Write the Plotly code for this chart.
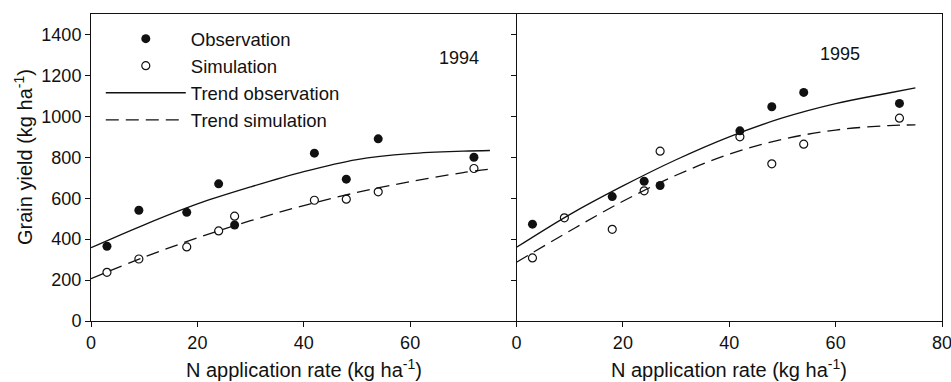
import plotly.graph_objects as go

# ---------------- data ----------------
n_rate = [3, 9, 18, 24, 27, 42, 48, 54, 72]
obs_1994 = [365, 541, 531, 670, 469, 820, 693, 890, 800]
sim_1994 = [238, 303, 362, 440, 512, 590, 595, 631, 745]
obs_1995 = [473, None, 608, 683, 662, 929, 1047, 1117, 1063]
sim_1995 = [308, 504, 448, 636, 830, 900, 768, 864, 991]

trend_x = [0, 10, 20, 30, 40, 50, 60, 70, 75]
trend_obs_1994 = [358, 470, 572, 655, 730, 789, 818, 830, 833]
trend_sim_1994 = [207, 312, 406, 490, 564, 628, 681, 725, 742]
trend_obs_1995 = [360, 520, 660, 788, 900, 992, 1062, 1114, 1139]
trend_sim_1995 = [287, 440, 585, 712, 815, 888, 933, 955, 958]

x_ticks_left = [0, 20, 40, 60]
x_ticks_right = [0, 20, 40, 60, 80]
y_ticks = [0, 200, 400, 600, 800, 1000, 1200, 1400]

FONT = "Liberation Sans, Arial, Helvetica, sans-serif"
INK = "#111111"

fig = go.Figure()

panels = [
    ("x", "y", obs_1994, sim_1994, trend_obs_1994, trend_sim_1994, True),
    ("x2", "y2", obs_1995, sim_1995, trend_obs_1995, trend_sim_1995, False),
]
for xa, ya, obs, sim, tobs, tsim, show in panels:
    fig.add_trace(go.Scatter(
        x=n_rate, y=obs, mode="markers", name="Observation",
        legendgroup="obs", showlegend=show, xaxis=xa, yaxis=ya,
        marker=dict(symbol="circle", size=9, color=INK, line=dict(width=0)),
    ))
    fig.add_trace(go.Scatter(
        x=n_rate, y=sim, mode="markers", name="Simulation",
        legendgroup="sim", showlegend=show, xaxis=xa, yaxis=ya,
        marker=dict(symbol="circle-open", size=8, color=INK, line=dict(width=1.2)),
    ))
    fig.add_trace(go.Scatter(
        x=trend_x, y=tobs, mode="lines", name="Trend observation",
        legendgroup="tobs", showlegend=show, xaxis=xa, yaxis=ya,
        line=dict(color=INK, width=1.3, shape="spline"),
    ))
    fig.add_trace(go.Scatter(
        x=trend_x, y=tsim, mode="lines", name="Trend simulation",
        legendgroup="tsim", showlegend=show, xaxis=xa, yaxis=ya,
        line=dict(color=INK, width=1.3, shape="spline", dash="13px,7px"),
    ))

axis_common = dict(
    showline=True, linecolor=INK, linewidth=1, ticks="outside", ticklen=5,
    tickcolor=INK, tickwidth=1, showgrid=False, zeroline=False, automargin=False,
    tickfont=dict(family=FONT, size=18, color=INK),
)

fig.update_layout(
    width=951, height=382,
    margin=dict(l=91, r=9, t=14, b=61),
    paper_bgcolor="white", plot_bgcolor="white",
    font=dict(family=FONT, size=18, color=INK),
    xaxis=dict(domain=[0, 0.5], range=[0, 80], tickvals=x_ticks_left,
               anchor="y", mirror=True, **axis_common),
    xaxis2=dict(domain=[0.5, 1], range=[0, 80], tickvals=x_ticks_right,
                anchor="y2", mirror=True, ticklabeloverflow="allow", **axis_common),
    yaxis=dict(range=[0, 1500], tickvals=y_ticks, anchor="x", **axis_common),
    yaxis2=dict(range=[0, 1500], tickvals=y_ticks, anchor="x2", matches="y",
                showticklabels=False, mirror=True, **axis_common),
    legend=dict(x=0.0115, y=0.98, xanchor="left", yanchor="top",
                bgcolor="rgba(0,0,0,0)", font=dict(family=FONT, size=18.5, color=INK),
                itemwidth=80, tracegroupgap=0),
    showlegend=True,
)

xt = "N application rate (kg ha<sup>-1</sup>)"
annotations = [
    dict(text=xt, xref="x domain", yref="paper", x=0.5, y=-0.155,
         xanchor="center", yanchor="middle", showarrow=False,
         font=dict(family=FONT, size=20, color=INK)),
    dict(text=xt, xref="x2 domain", yref="paper", x=0.5, y=-0.155,
         xanchor="center", yanchor="middle", showarrow=False,
         font=dict(family=FONT, size=20, color=INK)),
    dict(text="Grain yield (kg ha<sup>-1</sup>)", xref="paper", yref="paper",
         x=-0.08, y=0.534, xanchor="center", yanchor="middle", textangle=-90,
         showarrow=False, font=dict(family=FONT, size=20, color=INK)),
    dict(text="1994", xref="x", yref="y", x=69.1, y=1285, showarrow=False,
         font=dict(family=FONT, size=18, color=INK)),
    dict(text="1995", xref="x2", yref="y2", x=60.8, y=1307, showarrow=False,
         font=dict(family=FONT, size=18, color=INK)),
]
fig.update_layout(annotations=annotations)

fig.write_html("out.html", config={"displayModeBar": False},
               post_script="document.body.style.margin='0';document.body.style.overflow='hidden';")
